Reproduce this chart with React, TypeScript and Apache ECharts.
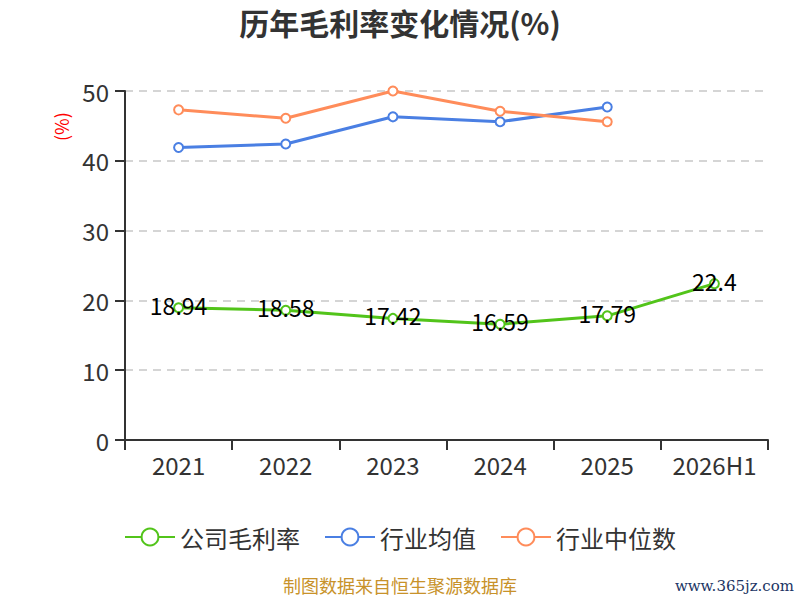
import React, { useEffect, useRef } from "react";
import * as echarts from "echarts";

const categories = ["2021", "2022", "2023", "2024", "2025", "2026H1"];
const companyMargin = [18.94, 18.58, 17.42, 16.59, 17.79, 22.4];
const industryAvg = [41.9, 42.4, 46.3, 45.6, 47.7, null];
const industryMedian = [47.3, 46.1, 50.0, 47.1, 45.6, null];
const yTicks = { min: 0, max: 50, interval: 10 };

export default function App() {
  const ref = useRef<HTMLDivElement>(null);
  useEffect(() => {
    if (!ref.current) return;
    const chart = echarts.init(ref.current, null, { renderer: "svg" });
    const font = "'Noto Sans CJK SC', 'Noto Sans', sans-serif";
    chart.setOption({
      animation: false,
      textStyle: { fontFamily: font },
      title: {
        text: "历年毛利率变化情况(%)",
        left: "center",
        top: 2,
        textStyle: { fontSize: 30, fontWeight: "bold", color: "#333", fontFamily: font },
      },
      grid: { left: 125, right: 32, top: 91, bottom: 160 },
      legend: {
        bottom: 46,
        left: "center",
        itemWidth: 50,
        itemHeight: 21,
        itemGap: 24,
        textStyle: { fontSize: 24, color: "#333", fontFamily: font },
        data: ["公司毛利率", "行业均值", "行业中位数"],
      },
      xAxis: {
        type: "category",
        data: categories,
        boundaryGap: true,
        axisLine: { lineStyle: { color: "#333", width: 2 } },
        axisTick: { show: true, interval: 0, length: 10, lineStyle: { color: "#333", width: 2 } },
        axisLabel: { interval: 0, fontSize: 24, color: "#333", margin: 12 },
      },
      yAxis: {
        type: "value",
        min: yTicks.min,
        max: yTicks.max,
        interval: yTicks.interval,
        axisLine: { show: true, lineStyle: { color: "#333", width: 2 } },
        axisTick: { show: true, length: 10, lineStyle: { color: "#333", width: 2 } },
        axisLabel: { fontSize: 24, color: "#333", margin: 16 },
        splitLine: { lineStyle: { type: [8, 6], color: "#c8c8c8", width: 1.5 } },
      },
      graphic: [
        {
          type: "text",
          x: 52,
          y: 141,
          rotation: Math.PI / 2,
          style: { text: "(%)", fill: "#ff0000", fontSize: 18, fontFamily: font },
        },
        {
          type: "text",
          left: "center",
          top: 576,
          style: { text: "制图数据来自恒生聚源数据库", fill: "#c8922a", fontSize: 18, fontFamily: font },
        },
        {
          type: "text",
          right: 6,
          top: 578,
          style: { text: "www.365jz.com", fill: "#1c3564", fontSize: 15, fontFamily: "'DejaVu Serif', serif" },
        },
      ],
      series: [
        {
          name: "公司毛利率",
          type: "line",
          data: companyMargin,
          symbol: "emptyCircle",
          symbolSize: 9,
          itemStyle: { color: "#52c41a" },
          lineStyle: { width: 3, color: "#52c41a" },
          label: {
            show: true,
            position: "inside",
            offset: [0, -3],
            color: "#000",
            fontSize: 23,
            fontFamily: font,
          },
          z: 3,
        },
        {
          name: "行业均值",
          type: "line",
          data: industryAvg,
          symbol: "emptyCircle",
          symbolSize: 9,
          itemStyle: { color: "#4a7fe3" },
          lineStyle: { width: 3, color: "#4a7fe3" },
        },
        {
          name: "行业中位数",
          type: "line",
          data: industryMedian,
          symbol: "emptyCircle",
          symbolSize: 9,
          itemStyle: { color: "#ff8c5a" },
          lineStyle: { width: 3, color: "#ff8c5a" },
        },
      ],
    });
    return () => chart.dispose();
  }, []);
  return <div ref={ref} style={{ width: 800, height: 600, position: "absolute", left: 0, top: 0 }} />;
}
